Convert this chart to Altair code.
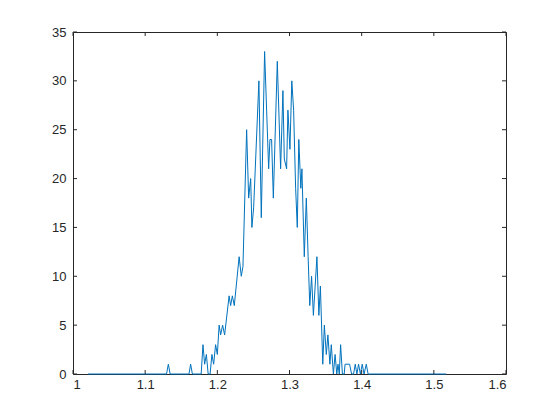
import altair as alt
import pandas as pd

# values
x_vals = [1.0208, 1.1296, 1.1321, 1.1346, 1.1607, 1.1630, 1.1654, 1.1776, 1.1801, 1.1824,
          1.1848, 1.1873, 1.1900, 1.1925, 1.1949, 1.1976, 1.2000, 1.2025, 1.2046, 1.2073,
          1.2101, 1.2163, 1.2184, 1.2208, 1.2235, 1.2302, 1.2332, 1.2355, 1.2406, 1.2434,
          1.2462, 1.2479, 1.2503, 1.2576, 1.2609, 1.2655, 1.2711, 1.2729, 1.2752, 1.2776,
          1.2831, 1.2877, 1.2909, 1.2928, 1.2960, 1.2978, 1.3006, 1.3032, 1.3057, 1.3085,
          1.3108, 1.3129, 1.3157, 1.3172, 1.3205, 1.3233, 1.3258, 1.3281, 1.3306, 1.3331,
          1.3380, 1.3407, 1.3428, 1.3461, 1.3483, 1.3510, 1.3532, 1.3560, 1.3579, 1.3608,
          1.3632, 1.3655, 1.3672, 1.3690, 1.3708, 1.3733, 1.3758, 1.3770, 1.3833, 1.3860,
          1.3888, 1.3911, 1.3934, 1.3957, 1.3982, 1.4008, 1.4033, 1.4064, 1.4089, 1.5172]
y_vals = [0, 0, 1, 0, 0, 1, 0, 0, 3, 1,
          2, 0, 0, 2, 1, 3, 2, 5, 4, 5,
          4, 8, 7, 8, 7, 12, 10, 11, 25, 18,
          20, 15, 17, 30, 16, 33, 21, 24, 24, 18,
          32, 21, 29, 22, 21, 27, 23, 30, 27, 19,
          15, 24, 19, 21, 12, 18, 12, 7, 10, 6,
          12, 6, 9, 1, 5, 2, 4, 1, 3, 0,
          2, 0, 1, 0, 3, 0, 0, 1, 1, 0,
          0, 1, 0, 1, 0, 1, 0, 1, 0, 0]
x_ticks = [1.0, 1.1, 1.2, 1.3, 1.4, 1.5, 1.6]
y_ticks = [0, 5, 10, 15, 20, 25, 30, 35]

df = pd.DataFrame({"x": x_vals, "y": y_vals})
xt = pd.DataFrame({"t": x_ticks})
yt = pd.DataFrame({"t": y_ticks})

W, H = 433, 342
TL = 4
AX = "#262626"
xs = alt.Scale(domain=[1.0, 1.6], nice=False, zero=False)
ys = alt.Scale(domain=[0, 35], nice=False)

common = dict(grid=False, domain=False, ticks=False, labelFont="Liberation Sans",
              labelFontSize=13, labelColor=AX, title=None)
xaxis = alt.Axis(values=x_ticks, format="~g", labelPadding=4, **common)
yaxis = alt.Axis(values=y_ticks, labelPadding=7, **common)

line = alt.Chart(df).mark_line(color="#0072BD", strokeWidth=1).encode(
    x=alt.X("x:Q", scale=xs, axis=xaxis),
    y=alt.Y("y:Q", scale=ys, axis=yaxis),
)

bt = alt.Chart(xt).mark_rule(color=AX, strokeWidth=1).encode(
    x=alt.X("t:Q", scale=xs, axis=xaxis), y=alt.value(H), y2=alt.value(H - TL))
tt = alt.Chart(xt).mark_rule(color=AX, strokeWidth=1).encode(
    x=alt.X("t:Q", scale=xs, axis=xaxis), y=alt.value(0), y2=alt.value(TL))
lt = alt.Chart(yt).mark_rule(color=AX, strokeWidth=1).encode(
    y=alt.Y("t:Q", scale=ys, axis=yaxis), x=alt.value(0), x2=alt.value(TL))
rt = alt.Chart(yt).mark_rule(color=AX, strokeWidth=1).encode(
    y=alt.Y("t:Q", scale=ys, axis=yaxis), x=alt.value(W), x2=alt.value(W - TL))

chart = alt.layer(line, bt, tt, lt, rt).properties(
    width=W, height=H,
    background="white",
    autosize=alt.AutoSizeParams(type="none"),
    padding={"left": 65, "top": 24, "right": 30, "bottom": 30},
).configure_view(stroke=AX, strokeWidth=1)

chart.save("out.html", embed_options={"renderer": "svg", "actions": False})
